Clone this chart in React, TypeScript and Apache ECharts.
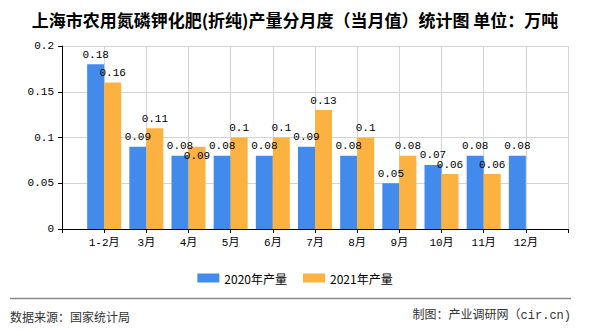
import React, { useEffect, useRef } from "react";
import * as echarts from "echarts";

const categories = ["", "1-2月", "3月", "4月", "5月", "6月", "7月", "8月", "9月", "10月", "11月", "12月", ""];
const values2020 = [null, 0.18, 0.09, 0.08, 0.08, 0.08, 0.09, 0.08, 0.05, 0.07, 0.08, 0.08, null];
const values2021 = [null, 0.16, 0.11, 0.09, 0.1, 0.1, 0.13, 0.1, 0.08, 0.06, 0.06, null, null];
const yTicks = { min: 0, max: 0.2, interval: 0.05 };
const seriesNames = ["2020年产量", "2021年产量"];
const titleText = "上海市农用氮磷钾化肥(折纯)产量分月度（当月值）统计图 单位：万吨";
const sourceText = "数据来源：国家统计局";
const creditText = "制图：产业调研网（cir.cn)";

const MONO = "'Liberation Mono', 'DejaVu Sans Mono', 'Noto Sans CJK SC', monospace";
const SANS = "'Noto Sans CJK SC', 'Noto Sans', sans-serif";

export default function App() {
  const ref = useRef<HTMLDivElement>(null);
  useEffect(() => {
    if (!ref.current) return;
    const chart = echarts.init(ref.current, null, { renderer: "svg" });
    const labelStyle = {
      show: true,
      position: "top" as const,
      distance: 4,
      color: "#000",
      fontFamily: MONO,
      fontSize: 11,
    };
    chart.setOption({
      animation: false,
      backgroundColor: "#fff",
      title: {
        text: titleText,
        left: "center",
        top: 6,
        textStyle: { fontFamily: SANS, fontSize: 17, fontWeight: "bold", color: "#000" },
      },
      legend: {
        data: seriesNames,
        left: "center",
        top: 267,
        itemWidth: 22,
        itemHeight: 9,
        itemGap: 16,
        icon: "rect",
        textStyle: { fontFamily: SANS, fontSize: 12, color: "#000" },
      },
      grid: { left: 62, right: 22, top: 46, bottom: 101, containLabel: false },
      xAxis: {
        type: "category",
        data: categories,
        boundaryGap: false,
        axisLine: { lineStyle: { color: "#000", width: 1 } },
        axisTick: { show: true, length: 4, lineStyle: { color: "#000" } },
        axisLabel: { interval: 0, color: "#000", fontFamily: MONO, fontSize: 11, margin: 8 },
        splitLine: { show: true, lineStyle: { color: "#d4d4d4" } },
      },
      yAxis: {
        type: "value",
        min: yTicks.min,
        max: yTicks.max,
        interval: yTicks.interval,
        axisLine: { show: true, lineStyle: { color: "#000", width: 1 } },
        axisTick: { show: true, length: 4, lineStyle: { color: "#000" } },
        axisLabel: { color: "#000", fontFamily: MONO, fontSize: 11, margin: 8 },
        splitLine: { show: true, lineStyle: { color: "#d4d4d4" } },
      },
      series: [
        {
          name: seriesNames[0],
          type: "bar",
          data: values2020,
          barWidth: 17,
          barGap: "0%",
          itemStyle: { color: "#428BEC" },
          label: labelStyle,
        },
        {
          name: seriesNames[1],
          type: "bar",
          data: values2021.map((v, i) =>
            i === 3 ? { value: v, label: { position: "insideTop", distance: 4 } } : v
          ),
          barWidth: 17,
          barGap: "0%",
          itemStyle: { color: "#FCB240" },
          label: labelStyle,
        },
      ],
      graphic: [
        {
          type: "line",
          shape: { x1: 10, y1: 298.5, x2: 571, y2: 298.5 },
          style: { stroke: "#888", lineWidth: 1.5 },
        },
        {
          type: "text",
          x: 10,
          y: 316,
          style: { text: sourceText, fontFamily: SANS, fontSize: 12, fill: "#333", verticalAlign: "middle" },
        },
        {
          type: "text",
          x: 571,
          y: 316,
          style: { text: creditText, fontFamily: MONO, fontSize: 12, fill: "#333", align: "right", verticalAlign: "middle" },
        },
      ],
    });
    return () => chart.dispose();
  }, []);
  return <div ref={ref} style={{ width: 590, height: 330, position: "absolute", left: 0, top: 0 }} />;
}
